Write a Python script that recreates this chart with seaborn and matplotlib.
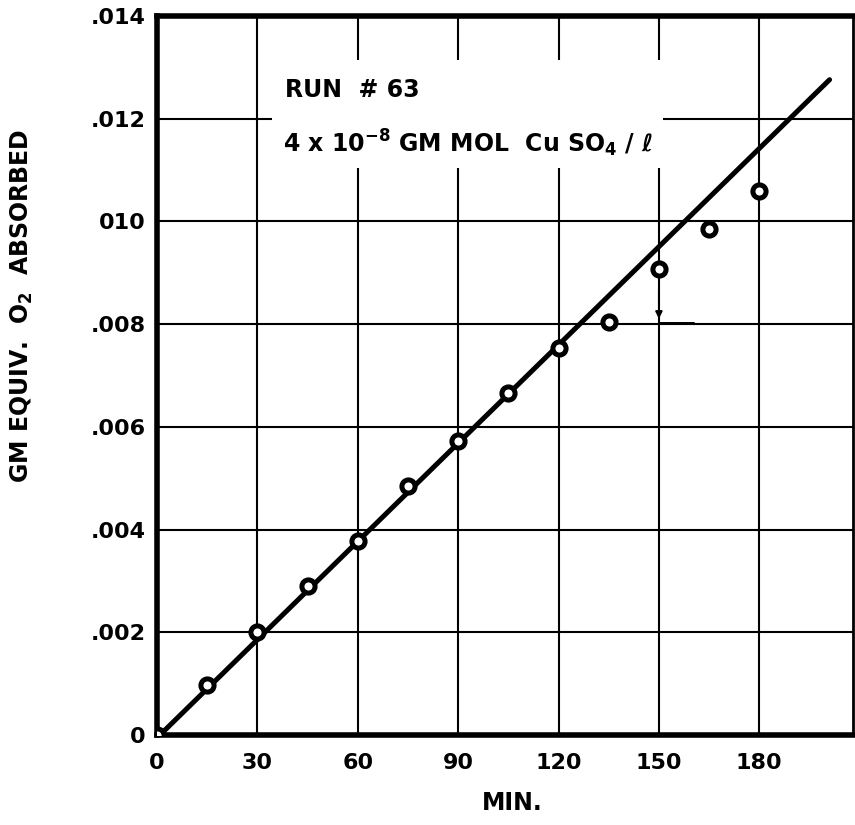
import matplotlib
matplotlib.use("Agg")
import matplotlib.pyplot as plt
import seaborn as sns
import pandas as pd
from matplotlib.patches import Rectangle

# ---- data ----
minutes = [0, 15, 30, 45, 60, 75, 90, 105, 120, 135, 150, 165, 180]
o2_absorbed = [0.0, 0.00097, 0.00201, 0.0029, 0.00378, 0.00485, 0.00573,
               0.00666, 0.00754, 0.00804, 0.00907, 0.00985, 0.0106]
fit_x = [1.5, 201.0]
fit_y = [0.00004, 0.01276]
note_x = [150, 150, 160.5]
note_y = [0.0089, 0.00802, 0.00802]
x_ticks = [0, 30, 60, 90, 120, 150, 180]
y_ticks = [0, 0.002, 0.004, 0.006, 0.008, 0.010, 0.012, 0.014]
y_tick_labels = ["0", ".002", ".004", ".006", ".008", "010", ".012", ".014"]
grid_x = [30, 60, 90, 120, 150, 180]
grid_y = [0.002, 0.004, 0.006, 0.008, 0.010, 0.012]

df = pd.DataFrame({"min": minutes, "o2": o2_absorbed})
fit = pd.DataFrame({"x": fit_x, "y": fit_y})

sns.set_style("white")
plt.rcParams["font.family"] = ["DejaVu Sans"]
plt.rcParams["font.weight"] = "bold"
for key in ["text.color", "axes.labelcolor", "xtick.color", "ytick.color"]:
    plt.rcParams[key] = "black"

fig = plt.figure(figsize=(8.55, 8.25), dpi=100)
ax = fig.add_axes([157 / 855, 1 - 735 / 825, 696 / 855, 719 / 825])

ax.set_xlim(0, 208)
ax.set_ylim(0, 0.014)

# grid
for gx in grid_x:
    ax.axvline(gx, color="black", lw=1.5, zorder=1)
for gy in grid_y:
    ax.axhline(gy, color="black", lw=1.5, zorder=1)

# white box masking grid behind the caption
ax.add_patch(Rectangle((34.4, 0.01104), 116.9, 0.00211, facecolor="white",
                       edgecolor="none", zorder=2))

sns.lineplot(data=fit, x="x", y="y", ax=ax, color="black", lw=3.6, zorder=3)
ax.plot(note_x, note_y, color="black", lw=1.4, zorder=3)
ax.annotate("", xy=(150, 0.00805), xytext=(150, 0.0087),
            arrowprops=dict(arrowstyle="-|>", color="black", lw=1.4,
                            mutation_scale=10), zorder=3)

sns.scatterplot(data=df, x="min", y="o2", ax=ax, marker="o", s=90,
                facecolor="white", edgecolor="black", linewidth=3.6,
                zorder=4, clip_on=True)

ax.text(38.3, 0.01256, "RUN  # 63", fontsize=17, fontweight="bold",
        va="center", ha="left", zorder=5)
ax.text(37.7, 0.01153, r"4 x 10$^{\mathbf{-8}}$ GM MOL  Cu SO$_{\mathbf{4}}$ / ℓ",
        fontsize=17, fontweight="bold", va="center", ha="left", zorder=5)

ax.set_xticks(x_ticks)
ax.set_xticklabels([str(t) for t in x_ticks], fontsize=16, fontweight="bold")
ax.set_yticks(y_ticks)
ax.set_yticklabels(y_tick_labels, fontsize=16, fontweight="bold")
ax.tick_params(axis="both", length=0)
ax.tick_params(axis="x", pad=13)
ax.tick_params(axis="y", pad=8)

ax.set_xlabel("MIN.", fontsize=17, fontweight="bold", va="center")
ax.set_ylabel(r"GM EQUIV.  O$_{\mathbf{2}}$  ABSORBED", fontsize=17, fontweight="bold")
ax.xaxis.set_label_coords(0.51, -0.094)
ax.yaxis.set_label_coords(-0.175, 0.597)

for side in ["left", "bottom", "top"]:
    ax.spines[side].set_linewidth(4)
    ax.spines[side].set_color("black")
ax.spines["right"].set_linewidth(2)
ax.spines["right"].set_color("black")

fig.savefig("out.png", dpi=100, facecolor="white")
